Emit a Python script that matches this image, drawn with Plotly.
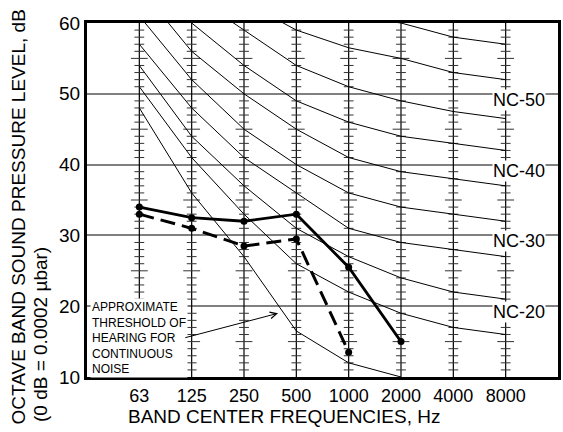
import plotly.graph_objects as go

bands = ["63", "125", "250", "500", "1000", "2000", "4000", "8000"]

# NC curves (dB per octave band)
nc20 = [51, 41, 33, 26, 22, 19, 17, 16]
nc25 = [54, 44, 37, 31, 27, 24, 22, 21]
nc30 = [57, 48, 41, 36, 31, 29, 28, 27]
nc35 = [61, 52, 45, 40, 36, 34, 33, 32]
nc40 = [65, 56, 50, 45, 41, 39, 38, 37]
nc45 = [68, 60, 54, 49, 46, 44, 43, 42]
nc50 = [72, 64, 59, 54, 51, 49, 47.5, 46.5]
nc55 = [75, 68, 63, 59, 56.5, 55, 53, 52]
nc60 = [78, 72, 68, 64, 61, 60, 58, 57]
nc_curves = [nc20, nc25, nc30, nc35, nc40, nc45, nc50, nc55, nc60]
nc_labels = ["NC-50", "NC-40", "NC-30", "NC-20"]
nc_label_levels = [50, 40, 30, 20]

threshold = [48, 36, 27, 16.5, 12, 10]
measured_solid = [34, 32.5, 32, 33, 25.5, 15]
measured_dashed = [33, 31, 28.5, 29.5, 13.5]

levels = list(range(10, 61))
font = "Arial, Liberation Sans, sans-serif"

fig = go.Figure()

# band lines with 1 dB scale marks
for b in bands:
    fig.add_trace(go.Scatter(x=[b, b], y=[levels[0], levels[-1]], mode="lines",
                             line=dict(color="black", width=1.2), hoverinfo="skip"))
short_y = [v for v in levels if v % 5]
long_y = [v for v in levels if v % 5 == 0 and v % 10]
fig.add_trace(go.Scatter(x=[b for b in bands for _ in short_y], y=short_y * len(bands),
                         mode="markers", marker=dict(symbol="line-ew", size=7,
                         line=dict(color="#333", width=1))))
fig.add_trace(go.Scatter(x=[b for b in bands for _ in long_y], y=long_y * len(bands),
                         mode="markers", marker=dict(symbol="line-ew", size=12,
                         line=dict(color="#333", width=1))))

for c in nc_curves:
    fig.add_trace(go.Scatter(x=bands, y=c, mode="lines", line=dict(color="black", width=1)))

fig.add_trace(go.Scatter(x=bands[:len(threshold)], y=threshold, mode="lines",
                         line=dict(color="black", width=1)))

fig.add_trace(go.Scatter(x=bands[:len(measured_solid)], y=measured_solid, mode="lines+markers",
                         line=dict(color="black", width=2.8),
                         marker=dict(color="black", size=7)))
fig.add_trace(go.Scatter(x=bands[:len(measured_dashed)], y=measured_dashed, mode="lines+markers",
                         line=dict(color="black", width=3, dash="15px,7px"),
                         marker=dict(color="black", size=7)))

for lab, lev in zip(nc_labels, nc_label_levels):
    fig.add_annotation(text=lab, xref="paper", x=1, xanchor="right", xshift=-12,
                       y=lev, yshift=-6, showarrow=False, bgcolor="white", borderpad=0,
                       font=dict(size=18, color="black", family=font))

fig.add_annotation(text="APPROXIMATE<br>THRESHOLD OF<br>HEARING FOR<br>CONTINUOUS<br>NOISE",
                   xref="paper", x=0, xanchor="left", xshift=3, y=15.5, yanchor="middle",
                   align="left", showarrow=False, bgcolor="white", borderpad=1,
                   font=dict(size=12, color="black", family=font))
fig.add_annotation(text="", x=2.65, y=19.0, ax=0.85, ay=15.5, axref="x", ayref="y",
                   showarrow=True, arrowhead=5, arrowsize=1.3, arrowwidth=1, arrowcolor="black")

fig.add_annotation(text="OCTAVE BAND SOUND PRESSURE LEVEL, dB", textangle=-90,
                   xref="paper", yref="paper", x=0, xshift=-69, y=0.4506,
                   xanchor="center", yanchor="middle",
                   showarrow=False, font=dict(size=19, color="black", family=font))
fig.add_annotation(text="(0 dB = 0.0002 \u00b5bar)", textangle=-90,
                   xref="paper", yref="paper", x=0, xshift=-47, y=0.1186,
                   xanchor="center", yanchor="middle",
                   showarrow=False, font=dict(size=19, color="black", family=font))
fig.add_annotation(text="BAND CENTER FREQUENCIES, Hz", xref="paper", yref="paper",
                   x=0.4188, y=-0.1116, xanchor="center", yanchor="middle", showarrow=False,
                   font=dict(size=19, color="black", family=font))

fig.update_xaxes(type="category", range=[-1, 8], showgrid=False, zeroline=False,
                 showline=True, mirror=True, linewidth=3, linecolor="black",
                 ticks="", tickfont=dict(size=18, color="black", family=font))
fig.update_yaxes(range=[10, 60], tickvals=[10, 20, 30, 40, 50, 60], showgrid=True,
                 gridcolor="#808080", gridwidth=1.5, zeroline=False,
                 showline=True, mirror=True, linewidth=3, linecolor="black",
                 ticks="", tickfont=dict(size=19, color="black", family=font))
fig.update_layout(width=563, height=432, margin=dict(l=87, r=2, t=23, b=55),
                  plot_bgcolor="white", paper_bgcolor="white", showlegend=False,
                  font=dict(family=font, color="black"))

# drop the browser's default page margin so the figure fills the window
fig.write_html("out.html", config={"displayModeBar": False},
               post_script="document.body.style.margin='0';")
